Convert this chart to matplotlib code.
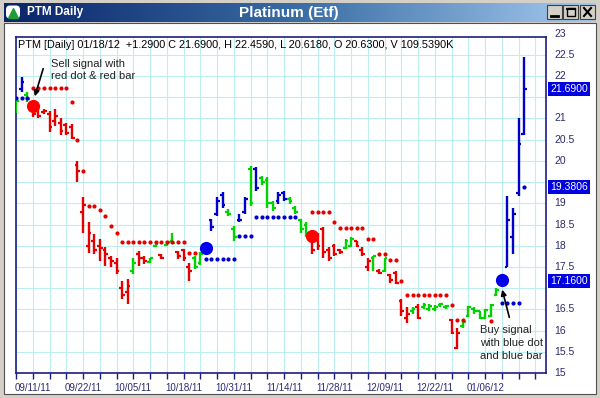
import numpy as np
import matplotlib
matplotlib.use('Agg')
import matplotlib.pyplot as plt
from matplotlib.patches import Rectangle, FancyBboxPatch
from matplotlib.colors import LinearSegmentedColormap
from matplotlib.transforms import blended_transform_factory

plt.rcParams['font.family'] = ['Liberation Sans', 'DejaVu Sans']

# daily OHLC bars (index = trading day)
highs = [21.50, 21.97, 21.62, 21.38, 21.30, 21.23, 21.18, 21.23, 21.02, 20.90,
         20.88, 20.00, 19.14, 18.55, 18.28, 18.16, 17.96, 17.76, 17.72, 17.17,
         17.22, 17.72, 17.88, 17.76, 17.72, 18.12, 17.81, 18.12, 18.31, 17.88,
         17.93, 17.60, 17.76, 17.85, 18.05, 18.64, 19.14, 19.26, 18.87, 18.47,
         18.75, 19.14, 19.89, 19.85, 19.65, 19.61, 19.06, 19.26, 19.30, 19.14,
         18.94, 18.63, 18.55, 18.16, 18.30, 18.43, 17.96, 18.05, 17.93, 18.16,
         18.20, 18.12, 17.96, 17.72, 17.76, 17.45, 17.72, 17.34, 17.41, 16.75,
         16.55, 16.55, 16.62, 16.66, 16.62, 16.60, 16.66, 16.60, 16.28, 16.07,
         16.23, 16.58, 16.55, 16.47, 16.50, 16.62, 17.01, 17.30, 19.18, 18.90,
         21.00, 22.459]
lows = [21.14, 21.62, 21.38, 21.03, 21.00, 21.10, 20.67, 20.83, 20.60, 20.60,
        20.52, 19.50, 18.31, 17.84, 17.81, 17.65, 17.53, 17.49, 17.33, 16.75,
        16.63, 17.34, 17.53, 17.58, 17.60, 17.96, 17.69, 18.00, 18.04, 17.69,
        17.65, 17.17, 17.45, 17.55, 17.80, 18.35, 18.71, 18.90, 18.71, 18.12,
        18.55, 18.75, 18.94, 19.30, 19.42, 18.90, 18.83, 18.99, 19.06, 18.99,
        18.75, 18.31, 18.20, 17.81, 17.90, 17.72, 17.65, 17.76, 17.81, 17.93,
        17.96, 17.96, 17.76, 17.41, 17.41, 17.33, 17.37, 17.13, 17.10, 16.35,
        16.19, 16.39, 16.27, 16.51, 16.47, 16.47, 16.55, 16.50, 15.92, 15.56,
        16.07, 16.31, 16.39, 16.27, 16.27, 16.31, 16.82, 17.05, 17.49, 17.80,
        19.18, 20.618]
opens = [21.20, 21.70, 21.55, 21.30, 21.25, 21.15, 21.10, 20.95, 20.90, 20.85,
         20.80, 19.90, 18.80, 18.00, 18.10, 18.00, 17.90, 17.70, 17.60, 17.00,
         16.90, 17.40, 17.80, 17.70, 17.62, 18.00, 17.78, 18.02, 18.10, 17.85,
         17.90, 17.50, 17.70, 17.60, 17.90, 18.60, 18.75, 19.20, 18.80, 18.40,
         18.60, 18.80, 19.80, 19.80, 19.60, 19.55, 19.00, 19.05, 19.25, 19.10,
         18.90, 18.60, 18.50, 18.10, 18.20, 18.40, 17.90, 18.00, 17.90, 17.95,
         18.00, 18.10, 17.90, 17.50, 17.70, 17.40, 17.40, 17.30, 17.35, 16.70,
         16.30, 16.45, 16.55, 16.55, 16.50, 16.52, 16.60, 16.55, 16.25, 15.60,
         16.10, 16.35, 16.50, 16.45, 16.30, 16.35, 16.85, 17.10, 17.50, 18.20,
         19.25, 20.63]
closes = [21.40, 21.85, 21.45, 21.10, 21.05, 21.18, 20.80, 21.05, 20.70, 20.65,
          20.55, 19.75, 18.95, 18.30, 17.90, 17.95, 17.80, 17.65, 17.40, 16.85,
          17.05, 17.60, 17.70, 17.65, 17.70, 18.05, 17.72, 18.08, 18.06, 17.75,
          17.70, 17.40, 17.50, 17.80, 18.00, 18.45, 19.05, 18.95, 18.75, 18.20,
          18.60, 19.10, 19.00, 19.35, 19.50, 19.00, 18.90, 19.20, 19.10, 19.05,
          18.80, 18.40, 18.30, 17.90, 18.00, 17.85, 17.70, 17.80, 17.85, 18.10,
          18.15, 18.00, 17.80, 17.65, 17.75, 17.35, 17.70, 17.20, 17.12, 16.45,
          16.40, 16.50, 16.30, 16.60, 16.58, 16.55, 16.62, 16.58, 15.95, 15.95,
          16.20, 16.55, 16.45, 16.30, 16.48, 16.60, 16.95, 17.16, 18.60, 18.75,
          20.40, 21.69]
bar_colors = list("GBGRRRRRRR" "RRRRRRRRRR" "RGRRGGRGGR" "RRGGBBBBGG" "BBGBGGGBBG"
                  "GGGRRRRRRG" "GRRRGRGRRR" "RGRGGGGGRR" "GGGGGGGBBB" "BB")

# trailing stop dots
red_stop_x = [3, 4, 5, 6, 7, 8, 9, 10, 11, 12, 13, 14, 15, 16, 17, 18,
              19, 20, 21, 22, 23, 24, 25, 26, 27, 28, 29, 30, 31, 32,
              53, 54, 55, 56, 57, 58, 59, 60, 61, 62, 63, 64, 65, 66, 67, 68, 69,
              70, 71, 72, 73, 74, 75, 76, 77, 78, 79, 80, 85]
red_stop_y = [21.72, 21.72, 21.72, 21.72, 21.72, 21.72, 21.72, 21.38, 20.50, 19.77,
              18.93, 18.93, 18.85, 18.71, 18.46, 18.30,
              18.09, 18.09, 18.09, 18.09, 18.09, 18.09, 18.09, 18.09, 18.09, 18.09,
              18.09, 18.09, 17.83, 17.83,
              18.79, 18.79, 18.79, 18.79, 18.57, 18.42, 18.42, 18.42, 18.42, 18.42,
              18.16, 18.16, 17.80, 17.80, 17.66, 17.66, 17.17,
              16.84, 16.84, 16.84, 16.84, 16.84, 16.84, 16.84, 16.84, 16.60, 16.25,
              16.25, 16.23]
blue_stop_x = [0, 1, 2, 34, 35, 36, 37, 38, 39, 40, 41, 42,
               43, 44, 45, 46, 47, 48, 49, 50, 87, 88, 89, 90, 91]
blue_stop_y = [21.48, 21.48, 21.48, 17.69, 17.69, 17.69, 17.69, 17.69, 17.69,
               18.24, 18.24, 18.24, 18.67, 18.67, 18.67, 18.67, 18.67, 18.67,
               18.67, 18.67, 16.66, 16.66, 16.66, 16.66, 19.38]

sell_x = [3, 53]
sell_y = [21.30, 18.24]
buy_x = [34, 87]
buy_y = [17.94, 17.19]

date_ticks = [3, 12, 21, 30, 39, 48, 57, 66, 75, 84]
date_labels = ['09/11/11', '09/22/11', '10/05/11', '10/18/11', '10/31/11',
               '11/14/11', '11/28/11', '12/09/11', '12/22/11', '01/06/12']
price_levels = [15, 15.5, 16, 16.5, 17, 17.5, 18, 18.5, 19, 19.5, 20, 20.5,
                21, 21.5, 22, 22.5, 23]
price_tags = [21.69, 19.3806, 17.16]
tag_labels = ['21.6900', '19.3806', '17.1600']
header = ("PTM [Daily] 01/18/12  +1.2900 C 21.6900, H 22.4590, L 20.6180, "
          "O 20.6300, V 109.5390K")

RED, GREEN, BLUE = '#e60000', '#00d400', '#0000cc'
NAVY = '#1c1c84'
cmap = {'R': RED, 'G': GREEN, 'B': BLUE}

fig = plt.figure(figsize=(6, 3.98), dpi=100)
fig.patch.set_facecolor('#d4d0c8')

# window chrome in pixel coordinates
bg = fig.add_axes([0, 0, 1, 1], zorder=-1)
bg.axis('off')
bg.add_patch(Rectangle((4, 23), 592, 371, fc='white', ec='#505050', lw=0.8))
tb = LinearSegmentedColormap.from_list('tb', ['#0a246a', '#3a6ea5', '#a6caf0'])
bg.imshow(np.linspace(0, 1, 256).reshape(1, -1), extent=(4, 596, 22, 3),
          cmap=tb, aspect='auto')
bg.add_patch(FancyBboxPatch((6, 5.5), 14, 13, boxstyle='round,pad=0,rounding_size=4',
                            fc='white', ec='none'))
bg.plot([13], [12.8], marker='^', color='#1f9d3a', ms=7)
bg.text(27, 12.5, 'PTM Daily', color='white', fontsize=8.5, fontweight='bold',
        va='center', ha='left')
bg.text(289, 12.5, 'Platinum (Etf)', color='white', fontsize=11, fontweight='bold',
        va='center', ha='center')
for bx in [547, 563, 580]:
    bg.add_patch(Rectangle((bx, 5), 15, 14, fc='#d4d0c8', ec='#404040', lw=0.8))
bg.plot([551, 558], [16, 16], color='black', lw=2)
bg.add_patch(Rectangle((566.5, 8), 8, 8, fill=False, ec='black', lw=1))
bg.plot([566.5, 574.5], [8.5, 8.5], color='black', lw=1.5)
bg.plot([584, 591], [8, 16], color='black', lw=1.5)
bg.plot([584, 591], [16, 8], color='black', lw=1.5)
bg.set_xlim(0, 600)
bg.set_ylim(398, 0)

# price panel
ax = fig.add_axes([16 / 600, 25 / 398, 530 / 600, 336 / 398])
x = np.arange(len(highs))
cols = [cmap[c] for c in bar_colors]
ax.vlines(x, lows, highs, colors=cols, lw=1.7, zorder=3)
ax.hlines(opens, x - 0.5, x, colors=cols, lw=1.6, zorder=3)
ax.hlines(closes, x, x + 0.5, colors=cols, lw=1.6, zorder=3)

ax.plot(red_stop_x, red_stop_y, 'o', color=RED, ms=3, mew=0, ls='none', zorder=3)
ax.plot(blue_stop_x, blue_stop_y, 'o', color=BLUE, ms=3, mew=0, ls='none', zorder=3)
ax.plot(sell_x, sell_y, 'o', color='#ff0000', ms=9.5, mew=0, ls='none', zorder=5)
ax.plot(buy_x, buy_y, 'o', color='#0000ee', ms=9.5, mew=0, ls='none', zorder=5)

ax.set_xlim(0, 94.9)
ax.set_ylim(15, 22.92)
ax.set_xticks(np.arange(0, 94, 3))
ax.set_xticklabels([date_labels[date_ticks.index(t)] if t in date_ticks else ''
                    for t in np.arange(0, 94, 3)])
ax.set_yticks(np.arange(15, 23, 0.5))
ax.tick_params(axis='y', length=0, labelleft=False)
ax.tick_params(axis='x', direction='out', length=4.5, width=1, color=NAVY,
               labelsize=7, labelcolor='#2a2a70', pad=2.5)
ax.grid(True, color='#bdeff0', lw=0.8, zorder=0)
ax.set_axisbelow(True)
for s in ax.spines.values():
    s.set_color(NAVY)
    s.set_linewidth(1.2)

# right-hand price scale; levels under a price tag are hidden by the tag
trans = blended_transform_factory(ax.transAxes, ax.transData)
for lvl in price_levels:
    if min(abs(lvl - t) for t in price_tags) < 0.3:
        continue
    lbl = str(int(lvl)) if lvl == int(lvl) else str(lvl)
    ax.text(1.015, lvl, lbl, transform=trans, va='center', ha='left',
            fontsize=7.5, color='#2a2a70', clip_on=False)
for lvl, lbl in zip(price_tags, tag_labels):
    ax.text(1.008, lvl, lbl, transform=trans, va='center', ha='left',
            fontsize=7.5, color='white', clip_on=False, zorder=6,
            bbox=dict(boxstyle='square,pad=0.2', fc='#0000e0', ec='none'))

# header and callouts (pixel coordinates)
ov = fig.add_axes([0, 0, 1, 1], zorder=10)
ov.patch.set_alpha(0)
ov.axis('off')
ov.set_xlim(0, 600)
ov.set_ylim(398, 0)
ov.text(18, 45, header, fontsize=7.8, color='black', va='center', ha='left')
ov.text(51, 70, 'Sell signal with\nred dot & red bar', fontsize=8, color='#222222',
        va='center', ha='left', linespacing=1.25)
ov.annotate('', xy=(34, 99), xytext=(44, 66),
            arrowprops=dict(arrowstyle='-|>', color='black', lw=1.2, mutation_scale=8))
ov.text(480, 343, 'Buy signal\nwith blue dot\nand blue bar', fontsize=8,
        color='#222222', va='center', ha='left', linespacing=1.35)
ov.annotate('', xy=(501.5, 287), xytext=(510, 320),
            arrowprops=dict(arrowstyle='-|>', color='black', lw=1.2, mutation_scale=8))

fig.savefig('out.png', dpi=100)
